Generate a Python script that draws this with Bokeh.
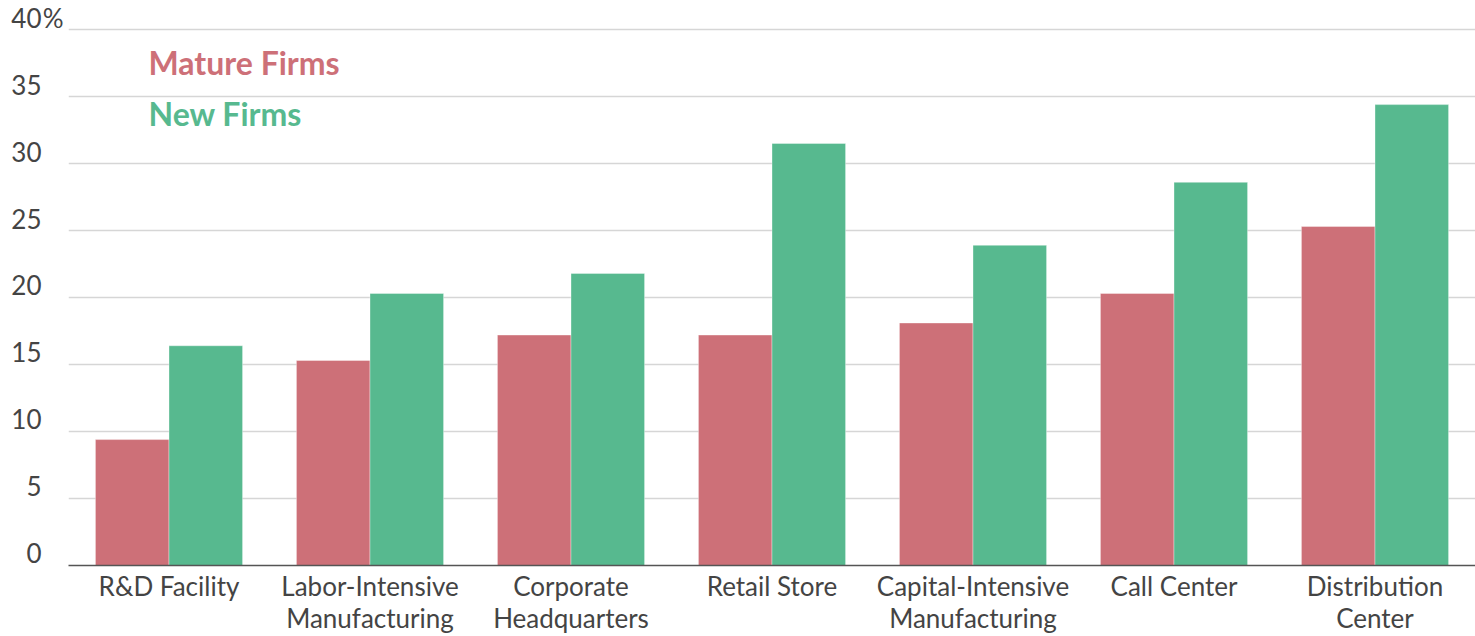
from bokeh.plotting import figure
from bokeh.models import (Range1d, FixedTicker, Label, ColumnDataSource, LinearAxis)
from bokeh.transform import dodge
from bokeh.embed import file_html
from bokeh.resources import INLINE

categories = ["R&D Facility", "Labor-Intensive\nManufacturing", "Corporate\nHeadquarters",
              "Retail Store", "Capital-Intensive\nManufacturing", "Call Center",
              "Distribution\nCenter"]
mature = [9.4, 15.3, 17.2, 17.2, 18.1, 20.3, 25.3]
new = [16.4, 20.3, 21.8, 31.5, 23.9, 28.6, 34.4]
series_names = ["Mature Firms", "New Firms"]
y_ticks = [0, 5, 10, 15, 20, 25, 30, 35, 40]
y_labels = ["0", "5", "10", "15", "20", "25", "30", "35", "40"]
y_unit = "%"

MATURE_C = "#CD7078"
NEW_C = "#57B98F"
FONT = "Lato"
TXT = "#444444"

pos = [i + 0.5 for i in range(len(categories))]
line1 = [c.split("\n")[0] for c in categories]
line2 = [c.split("\n")[1] if "\n" in c else "" for c in categories]

p = figure(width=1475, height=636, output_backend="svg", toolbar_location=None,
           x_range=Range1d(0, len(categories)),
           y_range=Range1d(0, 41.5),
           min_border_left=68, min_border_right=0, min_border_top=9,
           min_border_bottom=70)
p.outline_line_color = None
p.background_fill_color = "white"

src = ColumnDataSource(dict(pos=pos, cat=categories, mature=mature, new=new))
p.vbar(x=dodge("pos", -0.183), top="mature", width=0.366,
       source=src, fill_color=MATURE_C, line_color="white", line_width=0.6, line_alpha=0.6)
p.vbar(x=dodge("pos", 0.183), top="new", width=0.366,
       source=src, fill_color=NEW_C, line_color="white", line_width=0.6, line_alpha=0.6)

# grid
p.xgrid.grid_line_color = None
p.ygrid.ticker = FixedTicker(ticks=y_ticks)
p.ygrid.grid_line_color = "#d6d6d6"
p.ygrid.grid_line_width = 1.3

# y axes: labels sit just above their gridlines; inner axis carries the unit sign
shift = 0.9
shifted = [t + shift for t in y_ticks]


def style_y(ax, size="26px"):
    ax.axis_line_color = None
    ax.major_tick_line_color = None
    ax.minor_tick_line_color = None
    ax.major_tick_out = 0
    ax.major_tick_in = 0
    ax.major_label_text_font = FONT
    ax.major_label_text_font_size = size
    ax.major_label_text_color = TXT


unit_ax = p.yaxis[0]
unit_ax.ticker = FixedTicker(ticks=[shifted[-1]])
unit_ax.major_label_overrides = {shifted[-1]: y_unit}
unit_ax.major_label_standoff = 5
style_y(unit_ax)

num_ax = LinearAxis(ticker=FixedTicker(ticks=shifted),
                    major_label_overrides={s: l for s, l in zip(shifted, y_labels)},
                    major_label_standoff=-2)
style_y(num_ax)
p.add_layout(num_ax, "left")

# x axes: first and second line of each category label
xa1 = p.xaxis[0]
xa1.ticker = FixedTicker(ticks=pos)
xa1.major_label_overrides = {x: l for x, l in zip(pos, line1)}
xa1.axis_line_color = "#555555"
xa1.axis_line_width = 1.5
xa1.major_tick_line_color = None
xa1.minor_tick_line_color = None
xa1.major_tick_out = 0
xa1.major_tick_in = 0
xa1.major_label_standoff = 4
xa1.major_label_text_font = FONT
xa1.major_label_text_font_size = "26px"
xa1.major_label_text_color = TXT

xa2 = LinearAxis(ticker=FixedTicker(ticks=pos),
                 major_label_overrides={x: (l if l else " ") for x, l in zip(pos, line2)},
                 axis_line_color=None, major_tick_line_color=None,
                 minor_tick_line_color=None, major_tick_out=0, major_tick_in=0,
                 major_label_standoff=-3, major_label_text_font=FONT,
                 major_label_text_font_size="26px", major_label_text_color=TXT)
p.add_layout(xa2, "below")

# legend as coloured text
for name, col, yy in zip(series_names, [MATURE_C, NEW_C], [37.55, 33.75]):
    p.add_layout(Label(x=80, x_units="screen", y=yy, y_units="data", text=name,
                       text_align="left", text_baseline="middle", text_font=FONT,
                       text_font_size="32px", text_font_style="bold", text_color=col))

open("out.html", "w").write(file_html(p, INLINE))
